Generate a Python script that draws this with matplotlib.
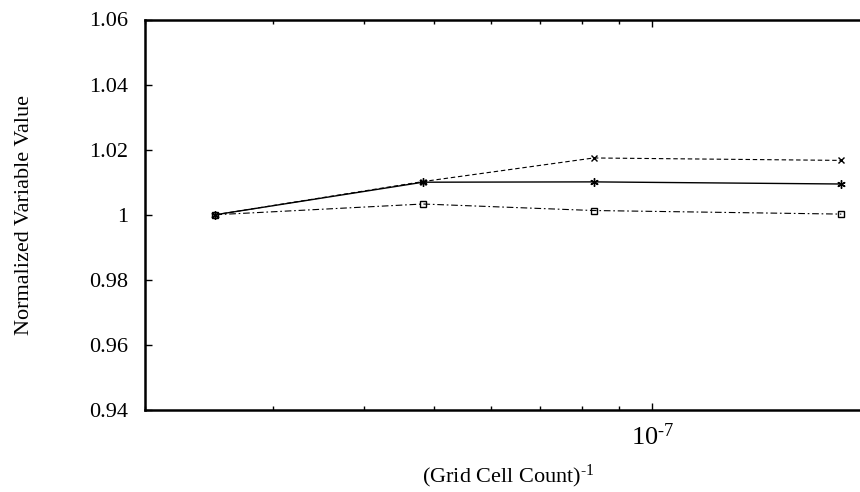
import matplotlib
matplotlib.use("Agg")
import matplotlib.pyplot as plt
from matplotlib.ticker import LogLocator, NullFormatter, FixedLocator, FuncFormatter

plt.rcParams['font.family'] = ['Liberation Serif', 'DejaVu Serif']
plt.rcParams['mathtext.fontset'] = 'custom'
plt.rcParams['mathtext.rm'] = 'Liberation Serif'
plt.rcParams['mathtext.it'] = 'Liberation Serif:italic'
plt.rcParams['mathtext.default'] = 'regular'

# Data
x_vals = [2.5e-8, 4.83e-8, 8.3e-8, 1.82e-7]
series_dashed = [1.0, 1.0102, 1.01745, 1.0167]
series_solid = [1.0, 1.0100, 1.0101, 1.00945]
series_dashdot = [1.0, 1.0033, 1.0013, 1.0002]
y_ticks = [0.94, 0.96, 0.98, 1.0, 1.02, 1.04, 1.06]
y_tick_labels = ['0.94', '0.96', '0.98', '1', '1.02', '1.04', '1.06']
x_major_ticks = [1e-7]

fig = plt.figure(figsize=(8.6, 4.92), dpi=100)
ax = fig.add_axes([145/860, 1-410/492, (871-145)/860, (410-19.5)/492])

ax.plot(x_vals, series_dashed, color='black', lw=0.8, linestyle=(0, (4, 2.5)),
        marker='x', markersize=5, markeredgewidth=1.0)
ax.plot(x_vals, series_solid, color='black', lw=1.0, linestyle='-',
        marker=(6, 2, 0), markersize=6, markeredgewidth=1.0)
ax.plot(x_vals, series_dashdot, color='black', lw=0.8, linestyle=(0, (6, 2.5, 1.5, 2.5)),
        marker='s', markersize=5, markerfacecolor='none', markeredgewidth=1.0)

ax.set_xscale('log')
ax.set_xlim(2e-8, 2e-7)
ax.set_ylim(0.94, 1.06)
ax.set_yticks(y_ticks)
ax.set_yticklabels(y_tick_labels)
ax.xaxis.set_major_locator(FixedLocator(x_major_ticks))
ax.xaxis.set_major_formatter(FuncFormatter(lambda v, p: r'$10^{\text{-}7}$'))
ax.xaxis.set_minor_locator(LogLocator(base=10, subs=range(2, 10)))
ax.xaxis.set_minor_formatter(NullFormatter())

for s in ax.spines.values():
    s.set_linewidth(1.8)

ax.tick_params(axis='y', which='major', direction='in', length=5, width=1.0,
               labelsize=16, right=True, pad=12)
ax.tick_params(axis='x', which='major', direction='in', length=5, width=1.0,
               labelsize=19, top=True, pad=10)
ax.tick_params(axis='x', which='minor', direction='in', length=3, width=1.0, top=True)

ax.set_xlabel(r'(Grid Cell Count)$^{\text{-}1}$', fontsize=16, labelpad=9)
ax.set_ylabel('Normalized Variable Value', fontsize=16, labelpad=40)

fig.savefig('out.png', dpi=100)
